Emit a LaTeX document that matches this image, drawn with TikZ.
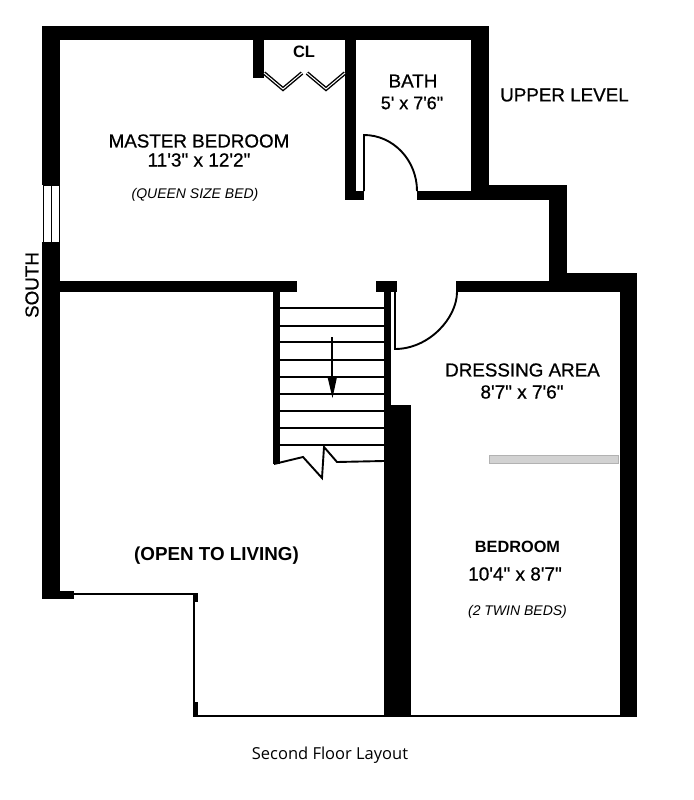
\documentclass[tikz,border=0pt]{standalone}
\usepackage{fontspec}
\setmainfont{Liberation Sans}
\newfontfamily\heavyfont[FakeBold=0.7]{Liberation Sans}
\newfontfamily\captionfont{Open Sans}
\tikzset{
    wall/.style={fill=black},
    thinwall/.style={draw=black, line width=2pt},
    tread/.style={draw=black, line width=1.9pt},
    leaf/.style={draw=black, line width=1.9pt},
    every node/.style={inner sep=0pt, align=center}
}
\tikzset{
    roomname/.style={font=\heavyfont\fontsize{18.8}{20}\selectfont},
    roomsize/.style={font=\heavyfont\fontsize{19}{20}\selectfont},
    roomnote/.style={font=\fontsize{14}{16}\selectfont\itshape}
}
\begin{document}
\begin{tikzpicture}[x=1pt,y=-1pt]
  \useasboundingbox (0,0) rectangle (693,800);

  % outer walls
  \fill[wall] (42,26) rectangle (489,40);
  \fill[wall] (42,26) rectangle (60,185);
  \fill[wall] (42,242) rectangle (60,599);
  \fill[wall] (42,591) rectangle (74,599);
  \fill[wall] (471,26) rectangle (489,200);
  \fill[wall] (471,185) rectangle (567,200);
  \fill[wall] (549,185) rectangle (567,292);
  \fill[wall] (549,273) rectangle (637,292);
  \fill[wall] (620,273) rectangle (637,716);

  % inner walls
  \fill[wall] (253,26) rectangle (264,78);
  \fill[wall] (345,26) rectangle (356,200);
  \fill[wall] (345,191) rectangle (364,200);
  \fill[wall] (417,191) rectangle (489,200);
  \fill[wall] (60,281) rectangle (297,292);
  \fill[wall] (376,281) rectangle (397,292);
  \fill[wall] (456,281) rectangle (549,292);
  \fill[wall] (273,292) rectangle (280,464);
  \fill[wall] (384,292) rectangle (391,405);
  \fill[wall] (384,405) rectangle (411,716);

  % window
  \draw[black, line width=.8pt, fill=white] (43,185) rectangle (59,242);
  \draw[black, line width=1pt] (51,185) -- (51,242);

  % open side
  \draw[thinwall] (74,593.5) -- (195,593.5);
  \draw[thinwall] (194,593) -- (194,716);
  \fill[wall] (193,593) rectangle (197.5,602);
  \fill[wall] (193,702) rectangle (197.5,716);
  \draw[thinwall] (193,716) -- (637,716);

  % closet doors
  \foreach \a/\b/\c in {264/283/302,307/326/345} {
    \draw[black, line width=3.8pt] (\a,73) -- (\b,89) -- (\c,73);
    \draw[white, line width=1pt] (\a,73) -- (\b,89) -- (\c,73);
  }

  % doors
  \draw[leaf] (364,191) -- (364,135) .. controls (393,135) and (417,160) .. (417,191);
  \draw[leaf] (395,292) -- (395,349) .. controls (429,349) and (457,318) .. (457,292);

  % stairs
  \foreach \y in {308,326,342,360,377,394,411,428,445}
    \draw[tread] (280,\y) -- (384,\y);
  \draw[black, line width=1.9pt] (274,464) -- (303,457) -- (322,478) -- (324,447) -- (337,462) -- (384,461);
  \draw[black, line width=1.8pt] (332,337) -- (332,385);
  \fill[black] (327.5,377) -- (337,377) -- (332.5,398) -- cycle;

  % closet rod
  \draw[gray!60, fill=gray!35, line width=.6pt] (489,455) rectangle (618,463);

  \node (master) [roomname] at (199,141) {MASTER BEDROOM};
  \node (mastersize) [roomsize] at (199,160) {11'3" x 12'2"};
  \node (masternote) [roomnote] at (195,195) {(QUEEN SIZE BED)};
  \node (cl) [font=\fontsize{16.5}{18}\bfseries\selectfont] at (304,52) {CL};
  \node (bath) [roomname] at (413,81) {BATH};
  \node (bathsize) [roomname, font=\heavyfont\fontsize{18}{20}\selectfont] at (412,103) {5' x 7'6"};
  \node (upper) [roomname] at (564.5,95) {UPPER LEVEL};
  \node (south) [roomname, rotate=90] at (32,285) {SOUTH};
  \node (dressing) [roomname] at (522.5,370) {DRESSING AREA};
  \node (dressingsize) [roomsize] at (522,392) {8'7" x 7'6"};
  \node (bedroom) [font=\fontsize{16.3}{18}\bfseries\selectfont] at (517.5,547) {BEDROOM};
  \node (bedroomsize) [roomsize] at (515,574) {10'4" x 8'7"};
  \node (bedroomnote) [roomnote] at (517.5,612) {(2 TWIN BEDS)};
  \node (open) [font=\fontsize{18.8}{22}\bfseries\selectfont] at (216.5,556) {(OPEN TO LIVING)};
  \node (title) [font=\captionfont\fontsize{16.5}{18}\selectfont] at (330,755) {Second Floor Layout};
\end{tikzpicture}
\end{document}
